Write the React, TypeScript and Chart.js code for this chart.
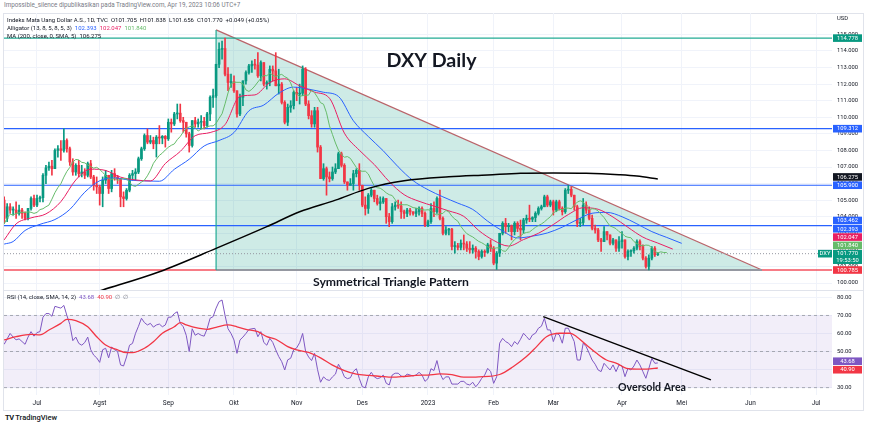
import React, { useEffect, useRef } from "react";
import { Chart, registerables } from "chart.js";

Chart.register(...registerables);

// ---------- DATA (bar index 0 = 1 Jul 2022, one index per trading day) ----------
const FIRST_BAR = -11;

const opens = [
  105.0, 103.9, 104.6, 104.4, 104.4, 104.2, 104.4, 104.2, 103.9, 104.5,
  105.1, 104.7, 105.1, 105.15, 106.5, 106.95, 107.05, 106.9, 108.0, 108.1,
  108.0, 108.6, 108.1, 107.3, 106.7, 107.1, 106.6, 106.7, 106.5, 107.2,
  106.4, 105.9, 105.8, 105.4, 106.2, 106.5, 105.7, 106.6, 106.4, 106.3,
  105.2, 105.1, 105.6, 106.5, 106.6, 106.7, 107.5, 108.1, 108.9, 108.5,
  108.6, 108.4, 108.8, 108.75, 108.85, 108.7, 109.7, 109.6, 110.2, 110.25,
  109.8, 109.7, 109.0, 108.3, 109.8, 109.6, 109.7, 109.75, 109.5, 110.2,
  111.2, 111.3, 113.2, 114.1, 114.15, 112.6, 112.1, 112.15, 111.6, 110.2,
  111.2, 112.2, 112.7, 113.1, 113.2, 113.15, 112.5, 113.3, 112.0, 112.1,
  112.9, 112.8, 111.9, 112.0, 110.9, 109.7, 110.6, 110.7, 111.5, 111.4,
  111.45, 112.9, 110.8, 110.1, 109.6, 110.4, 108.2, 106.3, 106.9, 106.4,
  106.3, 106.7, 106.9, 107.8, 107.1, 106.1, 105.9, 106.0, 106.6, 106.8,
  105.9, 104.7, 104.5, 105.3, 105.6, 105.1, 104.8, 104.9, 105.1, 104.0,
  103.7, 104.6, 104.7, 104.65, 104.3, 104.2, 104.4, 104.3, 104.2, 104.3,
  104.5, 104.2, 103.5, 103.7, 104.5, 104.3, 105.1, 103.9, 103.0, 103.2,
  103.25, 102.2, 102.25, 102.15, 102.4, 102.35, 102.1, 102.0, 102.1, 101.9,
  101.6, 101.9, 101.85, 102.3, 102.1, 101.2, 101.8, 103.0, 103.6, 103.4,
  103.45, 103.1, 103.6, 103.3, 103.2, 103.8, 103.9, 103.85, 103.95, 104.2,
  104.5, 104.6, 105.2, 104.7, 104.9, 104.4, 104.9, 104.5, 104.3, 105.6,
  105.65, 105.3, 104.6, 103.6, 103.65, 104.7, 104.4, 103.9, 103.3, 103.2,
  102.6, 102.5, 103.1, 102.9, 102.4, 102.6, 102.1, 102.5, 102.6, 101.6,
  101.9, 101.95, 102.1, 102.5, 102.2, 101.5, 101.0, 101.5, 102.1, 101.705,
];
const highs = [
  105.2, 104.8, 104.8, 104.6, 104.9, 104.7, 104.5, 104.3, 104.5, 105.2,
  105.3, 105.3, 105.25, 106.6, 107.1, 107.3, 107.4, 108.1, 108.3, 108.6,
  109.3, 108.7, 108.2, 107.5, 107.2, 107.4, 107.1, 106.9, 107.3, 107.4,
  106.5, 106.4, 105.9, 106.4, 106.8, 106.5, 106.8, 106.9, 106.5, 106.3,
  105.5, 105.7, 106.6, 106.8, 106.9, 107.6, 108.2, 109.0, 109.3, 108.9,
  108.8, 108.9, 109.5, 108.9, 108.9, 109.9, 109.9, 110.3, 110.8, 110.8,
  110.0, 109.7, 109.1, 109.8, 110.0, 109.9, 110.1, 110.0, 110.3, 111.3,
  111.7, 113.2, 114.5, 114.6, 114.78, 113.0, 112.6, 112.5, 111.6, 111.4,
  112.2, 112.8, 113.2, 113.4, 113.5, 113.9, 113.4, 113.3, 112.2, 113.1,
  113.1, 113.9, 112.9, 112.1, 111.0, 110.8, 111.0, 111.6, 111.8, 112.0,
  113.1, 113.0, 111.0, 110.4, 110.6, 110.6, 108.3, 107.2, 107.0, 106.7,
  107.0, 107.2, 107.9, 107.9, 107.2, 106.1, 106.3, 106.8, 106.9, 107.2,
  105.9, 105.2, 105.4, 105.7, 105.6, 105.3, 105.2, 105.2, 105.1, 104.2,
  104.8, 104.9, 105.0, 104.9, 104.4, 104.5, 104.5, 104.3, 104.5, 104.6,
  104.6, 104.3, 103.8, 104.8, 104.9, 105.2, 105.6, 104.0, 103.4, 103.3,
  103.3, 102.5, 102.4, 102.6, 102.9, 102.5, 102.5, 102.3, 102.2, 102.0,
  102.0, 102.0, 102.4, 102.6, 102.2, 101.9, 103.0, 103.7, 103.9, 103.6,
  103.5, 103.7, 103.7, 103.8, 103.9, 104.1, 104.7, 104.0, 104.3, 104.6,
  104.7, 105.3, 105.3, 105.0, 105.0, 105.0, 105.0, 104.6, 105.7, 105.9,
  105.8, 105.3, 104.7, 103.9, 105.1, 104.9, 104.6, 104.1, 103.5, 103.3,
  102.7, 103.4, 103.1, 102.9, 102.7, 102.6, 102.8, 103.1, 102.6, 102.0,
  102.0, 102.2, 102.6, 102.6, 102.3, 101.6, 101.7, 102.2, 102.2, 101.838,
];
const lows = [
  103.6, 103.7, 104.2, 104.1, 103.9, 104.1, 103.9, 103.8, 103.8, 104.4,
  104.6, 104.6, 104.9, 104.9, 106.0, 106.8, 106.5, 106.9, 107.6, 107.4,
  107.9, 107.9, 107.1, 106.5, 106.5, 106.4, 106.4, 106.3, 106.4, 106.3,
  105.6, 105.4, 104.7, 104.6, 106.0, 105.4, 105.5, 106.2, 106.0, 104.6,
  104.6, 105.0, 105.5, 106.2, 106.2, 106.6, 107.4, 108.0, 108.4, 108.4,
  108.1, 107.6, 108.4, 108.4, 108.2, 108.6, 109.1, 109.5, 109.9, 109.7,
  109.1, 108.8, 107.9, 108.2, 109.4, 109.4, 109.3, 109.3, 109.4, 109.8,
  110.6, 111.2, 113.0, 113.5, 112.5, 111.6, 111.8, 111.5, 110.0, 110.1,
  110.7, 112.0, 112.6, 112.7, 112.9, 112.4, 112.2, 111.9, 111.7, 111.9,
  112.2, 111.9, 111.4, 110.8, 109.6, 109.5, 110.3, 110.5, 111.0, 110.8,
  111.3, 110.7, 109.9, 109.4, 109.4, 107.9, 106.3, 106.2, 105.3, 106.1,
  106.2, 106.6, 106.9, 107.0, 106.0, 105.6, 105.9, 105.6, 106.4, 105.6,
  104.6, 104.1, 104.2, 105.2, 104.9, 104.7, 104.4, 104.8, 103.6, 103.4,
  103.6, 104.4, 104.5, 103.9, 103.9, 104.0, 104.1, 104.1, 104.0, 104.1,
  104.0, 103.4, 103.4, 103.6, 104.0, 104.2, 103.8, 102.9, 102.9, 102.9,
  102.0, 101.8, 102.0, 102.0, 102.0, 101.9, 101.8, 101.8, 101.5, 101.4,
  101.5, 101.6, 101.8, 101.9, 101.1, 100.82, 101.6, 102.9, 103.0, 103.1,
  102.6, 102.9, 103.1, 102.6, 103.0, 103.6, 103.7, 103.7, 103.7, 104.1,
  104.4, 104.6, 104.6, 104.6, 104.1, 104.3, 104.4, 104.1, 104.2, 105.4,
  105.2, 104.4, 103.4, 103.4, 103.5, 104.2, 103.8, 103.2, 103.0, 102.5,
  101.9, 102.5, 102.6, 102.3, 102.3, 101.9, 101.9, 102.1, 101.5, 101.4,
  101.6, 101.8, 102.0, 102.0, 101.4, 100.9, 100.785, 101.4, 101.6, 101.656,
];
const closes = [
  103.9, 104.6, 104.4, 104.4, 104.2, 104.4, 104.2, 103.9, 104.5, 105.1,
  104.7, 105.1, 105.15, 106.5, 106.95, 107.05, 106.9, 108.0, 108.1, 108.0,
  108.6, 108.1, 107.3, 106.7, 107.1, 106.6, 106.7, 106.5, 107.2, 106.4,
  105.9, 105.8, 105.4, 106.2, 106.5, 105.7, 106.6, 106.4, 106.3, 105.2,
  105.1, 105.6, 106.5, 106.6, 106.7, 107.5, 108.1, 108.9, 108.5, 108.6,
  108.4, 108.8, 108.75, 108.85, 108.7, 109.7, 109.6, 110.2, 110.25, 109.8,
  109.7, 109.0, 108.3, 109.8, 109.6, 109.7, 109.75, 109.5, 110.2, 111.2,
  111.3, 113.2, 114.1, 114.15, 112.6, 112.1, 112.15, 111.6, 110.2, 111.2,
  112.2, 112.7, 113.1, 113.2, 113.15, 112.5, 113.3, 112.0, 112.1, 112.9,
  112.8, 111.9, 112.0, 110.9, 109.7, 110.6, 110.7, 111.5, 111.4, 111.45,
  112.9, 110.8, 110.1, 109.6, 110.4, 108.2, 106.3, 106.9, 106.4, 106.3,
  106.7, 106.9, 107.8, 107.1, 106.1, 105.9, 106.0, 106.6, 106.8, 105.9,
  104.7, 104.5, 105.3, 105.6, 105.1, 104.8, 104.9, 105.1, 104.0, 103.7,
  104.6, 104.7, 104.65, 104.3, 104.2, 104.4, 104.3, 104.2, 104.3, 104.5,
  104.2, 103.5, 103.7, 104.5, 104.3, 105.1, 103.9, 103.0, 103.2, 103.25,
  102.2, 102.25, 102.15, 102.4, 102.35, 102.1, 102.0, 102.1, 101.9, 101.6,
  101.9, 101.85, 102.3, 102.1, 101.2, 101.8, 103.0, 103.6, 103.4, 103.45,
  103.1, 103.6, 103.3, 103.2, 103.8, 103.9, 103.85, 103.95, 104.2, 104.5,
  104.6, 105.2, 104.7, 104.9, 104.4, 104.9, 104.5, 104.3, 105.6, 105.65,
  105.3, 104.6, 103.6, 103.65, 104.7, 104.4, 103.9, 103.3, 103.2, 102.6,
  102.5, 103.1, 102.9, 102.4, 102.6, 102.1, 102.5, 102.6, 101.6, 101.9,
  101.95, 102.1, 102.5, 102.2, 101.5, 101.0, 101.5, 102.1, 101.7, 101.77,
];

// Alligator lips (green), one value per displayed bar starting at FIRST_BAR
const lipsValues = [
  103.55, 103.94, 104.15, 104.1, 104.2, 104.24, 104.27, 104.26, 104.29, 104.27,
  104.2, 104.26, 104.43, 104.48, 104.6, 104.7, 105.06, 105.45, 105.76, 105.99,
  106.39, 106.73, 106.98, 107.3, 107.46, 107.43, 107.28, 107.25, 107.12, 107.03,
  106.93, 106.98, 106.86, 106.67, 106.5, 106.28, 106.26, 106.31, 106.19, 106.27,
  106.3, 106.3, 106.08, 105.88, 105.83, 105.96, 106.09, 106.21, 106.47, 106.8,
  107.22, 107.47, 107.7, 107.84, 108.03, 108.19, 108.31, 108.39, 108.65, 108.84,
  109.11, 109.33, 109.42, 109.48, 109.38, 109.17, 109.29, 109.35, 109.42, 109.48,
  109.48, 109.63, 109.94, 110.21, 110.81, 111.47, 112.0, 112.12, 112.11, 112.11,
  112.01, 111.65, 111.56, 111.69, 111.89, 112.13, 112.35, 112.52, 112.51, 112.67,
  112.54, 112.45, 112.54, 112.59, 112.45, 112.36, 112.07, 111.6, 111.4, 111.26,
  111.31, 111.33, 111.34, 111.65, 111.48, 111.2, 110.88, 110.79, 110.27, 109.48,
  108.96, 108.45, 108.02, 107.76, 107.59, 107.63, 107.52, 107.24, 106.97, 106.78,
  106.74, 106.75, 106.58, 106.2, 105.86, 105.75, 105.72, 105.6, 105.44, 105.33,
  105.28, 105.03, 104.76, 104.73, 104.72, 104.72, 104.64, 104.55, 104.52, 104.48,
  104.42, 104.4, 104.42, 104.38, 104.2, 104.1, 104.18, 104.2, 104.38, 104.29,
  104.03, 103.86, 103.73, 103.42, 103.18, 102.98, 102.87, 102.78, 102.64, 102.51,
  102.43, 102.32, 102.18, 102.12, 102.08, 102.12, 102.12, 101.94, 101.91, 102.13,
  102.42, 102.62, 102.78, 102.84, 102.99, 103.05, 103.08, 103.22, 103.36, 103.47,
  103.56, 103.69, 103.85, 104.0, 104.24, 104.33, 104.44, 104.43, 104.52, 104.52,
  104.48, 104.7, 104.88, 104.96, 104.89, 104.63, 104.42, 104.48, 104.46, 104.35,
  104.14, 103.95, 103.68, 103.44, 103.37, 103.28, 103.1, 103.0, 102.82, 102.76,
  102.73, 102.5, 102.38, 102.28, 102.24, 102.29, 102.27, 102.12, 101.9, 101.82,
  101.88, 101.84, 101.84,
];

// Alligator teeth (red) and jaw (blue), read at sampled bar positions
const teethIdx = [-11, -7, -2, 3, 8, 13, 18, 23, 28, 33, 38, 43, 48, 53, 58, 63, 68, 73, 78, 83, 88, 93, 98, 103, 108, 113, 118, 123, 128, 133, 138, 143, 148, 153, 158, 163, 168, 173, 178, 183, 188, 193, 198, 203, 208, 213];
const teethValues = [102.6, 103.57, 103.93, 104.17, 104.91, 106.22, 106.87, 106.79, 106.39, 106.22, 106.16, 107.21, 107.94, 108.89, 109.08, 109.56, 111.26, 111.35, 112.1, 112.32, 111.9, 111.52, 111.15, 109.04, 108.01, 107.15, 106.12, 105.33, 104.93, 104.64, 104.35, 104.02, 103.17, 102.57, 102.23, 102.62, 103.0, 103.53, 104.13, 104.54, 104.45, 103.98, 103.36, 102.77, 102.41, 102.047];
const jawIdx = [-11, -8, -4, 1, 6, 11, 16, 21, 26, 31, 36, 41, 46, 51, 56, 61, 66, 71, 76, 81, 86, 91, 96, 101, 106, 111, 116, 121, 126, 131, 136, 141, 146, 151, 156, 161, 166, 171, 176, 181, 186, 191, 196, 201, 206, 211, 216];
const jawValues = [102.35, 102.5, 103.17, 103.54, 103.83, 104.44, 105.48, 106.17, 106.34, 106.21, 106.16, 106.14, 106.86, 107.47, 108.27, 108.6, 109.08, 110.39, 110.74, 111.45, 111.82, 111.7, 111.51, 111.26, 109.79, 108.84, 107.98, 107.01, 106.18, 105.63, 105.2, 104.82, 104.44, 103.73, 103.14, 102.72, 102.83, 103.02, 103.37, 103.83, 104.21, 104.26, 104.0, 103.57, 103.1, 102.75, 102.393];

// MA 200 (black)
const ma200Idx = [10, 22, 41, 60, 77, 88, 100, 111, 123, 138, 151, 162, 173, 184, 195, 201, 208];
const ma200Values = [98.9, 99.58, 100.68, 102.09, 103.4, 104.3, 105.0, 105.71, 106.17, 106.41, 106.52, 106.62, 106.64, 106.62, 106.53, 106.45, 106.275];

// RSI (14), one value per bar starting at FIRST_BAR
const rsiValues = [
  54, 57, 60, 58, 56.5, 57, 55.5, 54, 58, 61,
  58.5, 60.5, 61, 69, 71, 71, 69.5, 75, 74.5, 74,
  75.5, 70, 65, 56, 58, 54.5, 53.5, 55, 58, 51,
  48, 46.5, 44, 51, 51.8, 46.5, 52.5, 51, 50, 42.6,
  42, 47, 53.5, 54.5, 60, 64, 68.4, 66, 64.7, 65.6,
  63.5, 64.7, 65.2, 63.7, 64.7, 69, 69, 71, 72, 65.6,
  63.7, 59, 50, 62.6, 59, 60, 59, 58.5, 62.6, 68.4,
  69.3, 74, 77.6, 78.5, 70, 62.6, 60, 56.4, 49, 56.4,
  58, 60, 62.2, 62.6, 62.8, 58.2, 61, 55, 53.5, 57.3,
  55, 50.9, 47.2, 44.4, 39.8, 45.4, 46.3, 50.9, 52, 54.9,
  60, 50, 47, 45, 49, 40, 33, 36, 34.5, 34,
  36, 37.5, 43, 40, 36, 35, 35.5, 39, 40.5, 35,
  30.5, 30, 36, 38.5, 36, 35, 35.5, 37, 32.5, 31.5,
  37, 38, 38, 36.5, 36, 37.5, 37, 36.5, 37, 38.5,
  37, 33.5, 35, 40.5, 39.5, 45, 38, 34.5, 36, 36,
  32, 32, 32, 33.5, 33.5, 32, 31.5, 33, 30.5, 32.5,
  35.2, 37, 40.7, 38.9, 32.4, 36, 54.6, 57.3, 55.5, 54.6,
  52.7, 55.5, 54, 56.8, 60.1, 58.3, 56.4, 59.2, 60.1, 62.9,
  64, 68.4, 62, 61.9, 55.5, 60.1, 59.2, 54.6, 62.9, 62.9,
  59.2, 55.5, 45.3, 45.3, 54.6, 52.7, 49.1, 45.3, 43, 39.8,
  38.9, 43.5, 41.6, 39.8, 42.6, 38.9, 42.6, 42, 36.1, 40.7,
  39.8, 42, 45.3, 42.6, 38.9, 35.2, 40.7, 46.2, 43.5, 43.68,
];
// RSI moving average (SMA 14), read at sampled bar positions
const rsiMaIdx = [-11, -7, -2, 1, 4, 8, 10, 13, 17, 20, 23, 27, 30, 32, 36, 39, 42, 46, 48, 50, 54, 57, 60, 64, 67, 70, 74, 77, 80, 84, 87, 91, 95, 99, 103, 107, 111, 115, 119, 123, 127, 131, 135, 139, 143, 148, 155, 159.5, 164, 167.4, 170.7, 175.2, 178.6, 180.8, 184.1, 187.5, 190.8, 194.2, 197.5, 200.9, 204.3, 208];
const rsiMaValues = [56.4, 58.2, 59.5, 59.2, 61.9, 65.6, 67.8, 67.1, 63.7, 58.2, 53.6, 50.9, 49.4, 49.4, 51.8, 55.4, 60.1, 63.7, 66, 64.7, 62.9, 62.3, 63.4, 64.7, 63.7, 62.3, 61, 58.2, 56.8, 52.7, 50.9, 49.5, 46.5, 42.5, 39.5, 37.5, 36.8, 36.3, 35.8, 36.2, 36.8, 37, 37.6, 37.2, 35.8, 36, 37.3, 41.6, 47.2, 52.7, 58.2, 60.1, 60.1, 58.2, 53.6, 49, 45.3, 43.5, 40.7, 40.3, 40.3, 40.9];

// Time axis
const monthIdx = [0, 21, 44, 66, 87, 109, 131, 153, 173, 196, 216, 239, 261];
const monthLabels = ["Jul", "Agst", "Sep", "Okt", "Nov", "Des", "2023", "Feb", "Mar", "Apr", "Mei", "Jun", "Jul"];
const priceTicks = [100, 101, 102, 103, 104, 105, 106, 107, 108, 109, 110, 111, 112, 113, 114, 115];
const rsiTicks = [30, 40, 50, 60, 70, 80];

// Drawn levels & shapes
const levelValues = [114.778, 109.312, 105.9, 103.462];
const supportValue = 100.785;
const lastPrice = 101.77;
const triangleX = [60, 242.9];
const triangleY = [115.27, 100.785];
const rsiTrendX = [169.6, 225.8];
const rsiTrendY = [69.3, 34.3];
const rsiLevels = [70, 50, 30];

// Price-scale tags
const tagValues = [114.778, 109.312, 106.275, 105.9, 103.462, 102.393, 102.047, 101.84, 101.77, 100.785];
const tagColors = ["#089981", "#2962ff", "#131722", "#2962ff", "#2962ff", "#2962ff", "#e91e63", "#66bb6a", "#089981", "#f23645"];
const rsiTagValues = [43.68, 40.9];
const rsiTagColors = ["#7e57c2", "#f23645"];

// Notes (text, x bar index, y value)
const mainNotes = [
  { text: "DXY Daily", x: 132.2, y: 113.05, w: 90 },
  { text: "Symmetrical Triangle Pattern", x: 118.6, y: 99.82, w: 156 },
];
const rsiNotes = [{ text: "Oversold Area", x: 206.05, y: 28.34, w: 68 }];

// ---------- LAYOUT ----------
const X_MIN = -11.056;
const X_MAX = 266.36;
const MAIN_MIN = 99.578;
const MAIN_MAX = 116.293;
const RSI_MIN = 25.96;
const RSI_MAX = 83.48;
const UP = "#089981";
const DOWN = "#f23645";
const GRID = "#f0f3fa";
const SMALL = "Roboto, sans-serif";

function fitFont(ctx: any, text: string, w: number) {
  ctx.font = "bold 100px Lato, sans-serif";
  const m = ctx.measureText(text).width;
  ctx.font = `bold ${(100 * w) / m}px Lato, sans-serif`;
}

function drawTag(ctx: any, left: number, yc: number, w: number, h: number, bg: string, text: string, sub?: string) {
  ctx.fillStyle = bg;
  ctx.fillRect(left, yc - h / 2, w, sub ? h + 6.5 : h);
  ctx.fillStyle = "#ffffff";
  ctx.font = `5.8px ${SMALL}`;
  ctx.textAlign = "center";
  ctx.textBaseline = "middle";
  ctx.fillText(text, left + w / 2, yc + 0.3);
  if (sub) ctx.fillText(sub, left + w / 2, yc + 6.8);
}

const line = (data: any[], color: string, width: number, order: number, extra: any = {}) => ({
  type: "line",
  data,
  borderColor: color,
  borderWidth: width,
  pointRadius: 0,
  fill: false,
  order,
  ...extra,
});

const noPad = (s: any) => {
  s.paddingTop = 0;
  s.paddingBottom = 0;
  s.paddingLeft = 0;
  s.paddingRight = 0;
};

export default function App() {
  const mainRef = useRef<HTMLCanvasElement>(null);
  const rsiRef = useRef<HTMLCanvasElement>(null);

  useEffect(() => {
    document.body.style.margin = "0";
    const colors = opens.map((o, k) => (closes[k] >= o ? UP : DOWN));
    const wickData = opens.map((_, k) => ({ x: FIRST_BAR + k, y: [lows[k], highs[k]] }));
    const bodyData = opens.map((o, k) => ({ x: FIRST_BAR + k, y: [o, closes[k]] }));
    const span = (v: number) => [{ x: X_MIN, y: v }, { x: X_MAX, y: v }];

    const mainOverlay = {
      id: "mainOverlay",
      afterDatasetsDraw(chart: any) {
        const { ctx, scales } = chart;
        ctx.save();
        ctx.fillStyle = "#131722";
        ctx.textAlign = "center";
        ctx.textBaseline = "alphabetic";
        mainNotes.forEach((n) => {
          fitFont(ctx, n.text, n.w);
          ctx.fillText(n.text, scales.x.getPixelForValue(n.x), scales.y.getPixelForValue(n.y));
        });
        ctx.restore();
      },
      afterDraw(chart: any) {
        const { ctx, chartArea, scales } = chart;
        ctx.save();
        const left = chartArea.right + 1;
        const order = tagValues.map((v, i) => i).sort((a, b) => tagValues[a] - tagValues[b]);
        let prev = Infinity;
        const ys: number[] = [];
        order.forEach((i) => {
          const yTrue = scales.y.getPixelForValue(tagValues[i]);
          const yc = Math.min(yTrue, prev - 8.3);
          ys[i] = yc;
          prev = yc;
        });
        tagValues.forEach((v, i) => {
          const sub = v === lastPrice ? "19:53:50" : undefined;
          drawTag(ctx, left, ys[i], 29, 7.6, tagColors[i], v.toFixed(3), sub);
          if (sub) drawTag(ctx, left - 15, ys[i], 14, 7.6, tagColors[i], "DXY");
        });
        ctx.fillStyle = "#131722";
        ctx.font = `5.8px ${SMALL}`;
        ctx.textAlign = "left";
        ctx.textBaseline = "middle";
        ctx.fillText("USD", chartArea.right + 5, 6);
        ctx.restore();
      },
    };

    const rsiOverlay = {
      id: "rsiOverlay",
      afterDatasetsDraw(chart: any) {
        const { ctx, scales } = chart;
        ctx.save();
        ctx.fillStyle = "#131722";
        ctx.textAlign = "center";
        ctx.textBaseline = "alphabetic";
        rsiNotes.forEach((n) => {
          fitFont(ctx, n.text, n.w);
          ctx.fillText(n.text, scales.x.getPixelForValue(n.x), scales.y.getPixelForValue(n.y));
        });
        ctx.restore();
      },
      afterDraw(chart: any) {
        const { ctx, chartArea, scales } = chart;
        ctx.save();
        const y0 = scales.y.getPixelForValue(rsiTagValues[0]);
        const y1 = scales.y.getPixelForValue(rsiTagValues[1]);
        let a = y0, b = y1;
        if (b - a < 8.5) {
          const mid = (a + b) / 2;
          a = mid - 4.25;
          b = mid + 4.25;
        }
        drawTag(ctx, chartArea.right + 1, a, 29, 7.6, rsiTagColors[0], rsiTagValues[0].toFixed(2));
        drawTag(ctx, chartArea.right + 1, b, 29, 7.6, rsiTagColors[1], rsiTagValues[1].toFixed(2));
        ctx.restore();
      },
    };

    const main = new Chart(mainRef.current as HTMLCanvasElement, {
      type: "bar",
      data: {
        datasets: [
          line(
            triangleX.map((x, i) => ({ x, y: triangleY[i] })),
            "#b9646a",
            1.3,
            100,
            {
              backgroundColor: "rgba(8,153,129,0.2)",
              fill: { target: { value: supportValue }, above: "rgba(8,153,129,0.2)", below: "rgba(8,153,129,0.2)" },
            }
          ),
          ...levelValues.map((v, i) => line(span(v), i === 0 ? "#22ab94" : "#2962ff", 1.2, 90)),
          line(span(supportValue), "rgba(242,54,69,0.65)", 2, 90),
          line(span(lastPrice), "#9598a1", 1, 89, { borderDash: [1, 2] }),
          line([{ x: triangleX[0], y: triangleY[0] }, { x: triangleX[0], y: supportValue }], "#22ab94", 1.2, 85),
          line([{ x: triangleX[0], y: supportValue }, { x: triangleX[1], y: supportValue }], "#9598a1", 2, 85),
          {
            type: "bar",
            data: wickData,
            backgroundColor: colors,
            barThickness: 1,
            grouped: false,
            order: 60,
          },
          {
            type: "bar",
            data: bodyData,
            backgroundColor: colors,
            barThickness: 2,
            minBarLength: 1,
            grouped: false,
            order: 55,
          },
          line(jawIdx.map((x, i) => ({ x, y: jawValues[i] })), "#2962ff", 1, 42, { cubicInterpolationMode: "monotone" }),
          line(teethIdx.map((x, i) => ({ x, y: teethValues[i] })), "#e91e63", 1, 41, { cubicInterpolationMode: "monotone" }),
          line(lipsValues.map((y, k) => ({ x: FIRST_BAR + k, y })), "#66bb6a", 1, 40),
          line(ma200Idx.map((x, i) => ({ x, y: ma200Values[i] })), "#000000", 1.5, 30, { cubicInterpolationMode: "monotone" }),
        ] as any,
      },
      options: {
        responsive: false,
        maintainAspectRatio: false,
        animation: false,
        devicePixelRatio: 1,
        events: [],
        layout: { padding: { left: 4, right: 0, top: 0, bottom: 0 } },
        plugins: { legend: { display: false }, tooltip: { enabled: false } },
        scales: {
          x: {
            type: "linear",
            min: X_MIN,
            max: X_MAX,
            offset: false,
            afterBuildTicks: (s: any) => {
              s.ticks = monthIdx.map((v) => ({ value: v }));
            },
            afterFit: (s: any) => {
              s.height = 0;
              noPad(s);
            },
            ticks: { display: false },
            grid: { color: GRID, drawTicks: false, offset: false },
            border: { display: false },
          },
          y: {
            type: "linear",
            position: "right",
            min: MAIN_MIN,
            max: MAIN_MAX,
            afterBuildTicks: (s: any) => {
              s.ticks = priceTicks.map((v) => ({ value: v }));
            },
            afterFit: (s: any) => {
              s.width = 34;
              noPad(s);
            },
            ticks: {
              callback: (v: any) => Number(v).toFixed(3),
              font: { family: SMALL, size: 5.8 },
              color: "#131722",
              padding: 5,
              autoSkip: false,
            },
            grid: { color: GRID, drawTicks: false },
            border: { display: false },
          },
        },
      } as any,
      plugins: [mainOverlay],
    });

    const rsi = new Chart(rsiRef.current as HTMLCanvasElement, {
      type: "line",
      data: {
        datasets: [
          line(span(rsiLevels[0]), "#9598a1", 0.8, 100, {
            borderDash: [3, 3],
            backgroundColor: "rgba(126,87,194,0.1)",
            fill: { target: { value: rsiLevels[2] }, above: "rgba(126,87,194,0.1)", below: "rgba(126,87,194,0.1)" },
          }),
          line(span(rsiLevels[1]), "#9598a1", 0.8, 99, { borderDash: [3, 3] }),
          line(span(rsiLevels[2]), "#9598a1", 0.8, 98, { borderDash: [3, 3] }),
          line(rsiValues.map((y, k) => ({ x: FIRST_BAR + k, y })), "#7e57c2", 1, 50),
          line(rsiMaIdx.map((x, i) => ({ x, y: rsiMaValues[i] })), "#f23645", 1.3, 40, { cubicInterpolationMode: "monotone" }),
          line(rsiTrendX.map((x, i) => ({ x, y: rsiTrendY[i] })), "#000000", 1.4, 30),
        ] as any,
      },
      options: {
        responsive: false,
        maintainAspectRatio: false,
        animation: false,
        devicePixelRatio: 1,
        events: [],
        layout: { padding: { left: 4, right: 0, top: 1, bottom: 0 } },
        plugins: { legend: { display: false }, tooltip: { enabled: false } },
        scales: {
          x: {
            type: "linear",
            min: X_MIN,
            max: X_MAX,
            afterBuildTicks: (s: any) => {
              s.ticks = monthIdx.map((v) => ({ value: v }));
            },
            afterFit: (s: any) => {
              s.height = 15;
              noPad(s);
            },
            ticks: {
              callback: (v: any) => monthLabels[monthIdx.indexOf(Number(v))],
              font: { family: SMALL, size: 6.5 },
              color: "#131722",
              padding: 4,
              autoSkip: false,
              maxRotation: 0,
            },
            grid: { color: GRID, drawTicks: false },
            border: { display: false },
          },
          y: {
            type: "linear",
            position: "right",
            min: RSI_MIN,
            max: RSI_MAX,
            afterBuildTicks: (s: any) => {
              s.ticks = rsiTicks.map((v) => ({ value: v }));
            },
            afterFit: (s: any) => {
              s.width = 34;
              noPad(s);
            },
            ticks: {
              callback: (v: any) => Number(v).toFixed(2),
              font: { family: SMALL, size: 5.8 },
              color: "#131722",
              padding: 5,
              autoSkip: false,
            },
            grid: { color: GRID, drawTicks: false },
            border: { display: false },
          },
        },
      } as any,
      plugins: [rsiOverlay],
    });

    return () => {
      main.destroy();
      rsi.destroy();
    };
  }, []);

  const lastIdx = opens.length - 1;
  const txt: any = { position: "absolute", whiteSpace: "pre", fontFamily: SMALL, fontSize: 6, lineHeight: "8px", color: "#131722" };

  return (
    <div style={{ position: "fixed", left: 0, top: 0, width: 870, height: 426, background: "#ffffff", overflow: "hidden" }}>
      <div style={{ position: "absolute", left: 3, top: 13, width: 859, height: 396, border: "1px solid #e0e3eb" }} />
      <div style={{ position: "absolute", left: 3, top: 290, width: 861, height: 1, background: "#e0e3eb" }} />
      <canvas ref={mainRef} width={866} height={277} style={{ position: "absolute", left: 0, top: 13, width: 866, height: 277 }} />
      <canvas ref={rsiRef} width={866} height={120} style={{ position: "absolute", left: 0, top: 290, width: 866, height: 120 }} />
      <div style={{ ...txt, left: 4, top: 1, fontSize: 6.3, color: "#787b86" }}>
        Impossible_silence dipublikasikan pada TradingView.com, Apr 19, 2023 10:06 UTC+7
      </div>
      <div style={{ ...txt, left: 7, top: 15.5 }}>
        <div>
          {"Indeks Mata Uang Dollar A.S., 1D, TVC  "}
          {`O${opens[lastIdx].toFixed(3)}  H${highs[lastIdx].toFixed(3)}  L${lows[lastIdx].toFixed(3)}  C${closes[lastIdx].toFixed(3)}  +0.049 (+0.05%)`}
        </div>
        <div>
          {"Alligator (13, 8, 5, 8, 5, 3)  "}
          <span style={{ color: "#2962ff" }}>{jawValues[jawValues.length - 1].toFixed(3)}</span>
          {"  "}
          <span style={{ color: "#e91e63" }}>{teethValues[teethValues.length - 1].toFixed(3)}</span>
          {"  "}
          <span style={{ color: "#66bb6a" }}>{lipsValues[lipsValues.length - 1].toFixed(3)}</span>
        </div>
        <div>
          {"MA (200, close, 0, SMA, 5)  "}
          <span>{ma200Values[ma200Values.length - 1].toFixed(3)}</span>
        </div>
      </div>
      <div style={{ ...txt, left: 7, top: 293 }}>
        {"RSI (14, close, SMA, 14, 2)  "}
        <span style={{ color: "#7e57c2" }}>{rsiValues[rsiValues.length - 1].toFixed(2)}</span>
        {"  "}
        <span style={{ color: "#f23645" }}>{rsiMaValues[rsiMaValues.length - 1].toFixed(2)}</span>
        <span style={{ color: "#787b86" }}>{"  ∅  ∅"}</span>
      </div>
      <div style={{ ...txt, left: 5, top: 413, fontSize: 7.5, fontWeight: 700, lineHeight: "9px" }}>
        <span style={{ letterSpacing: -0.5 }}>TV</span>
        <span style={{ fontWeight: 500 }}>{" TradingView"}</span>
      </div>
    </div>
  );
}
